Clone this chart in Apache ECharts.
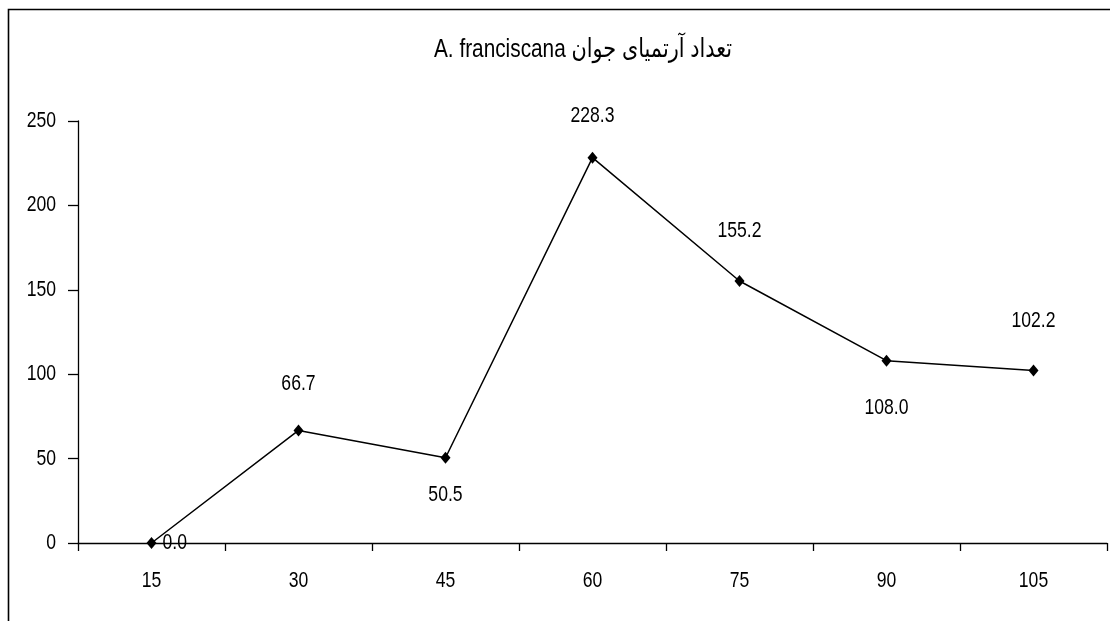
<!DOCTYPE html>
<html>
<head>
<meta charset="utf-8">
<script src="https://cdn.jsdelivr.net/npm/echarts@6/dist/echarts.min.js"></script>
<style>
  html, body { margin: 0; padding: 0; background: #fff; }
  #chart { width: 1110px; height: 621px; }
</style>
</head>
<body>
<div id="chart"></div>
<script>
// Young Artemia counts over time
const titleText = 'A. franciscana تعداد آرتمیای جوان';
const categories = ['15', '30', '45', '60', '75', '90', '105'];
const counts = [0.0, 66.7, 50.5, 228.3, 155.2, 108.0, 102.2];
const yTicks = [0, 50, 100, 150, 200, 250];

// label placement per point (style only)
const labelPlace = ['right', 'top', 'bottom', 'top', 'top', 'bottom', 'top'];
const labelGap = [6, 29, 20, 25, 33, 30, 33];

const FONT = '"Liberation Sans Narrow", "Arial Narrow", "Liberation Sans", Arial, "DejaVu Sans", sans-serif';

// No narrow face is installed, so draw canvas text horizontally condensed
// around its anchor point (keeps left/center/right alignment intact).
const TEXT_CONDENSE = 0.8;
(function () {
  const proto = CanvasRenderingContext2D.prototype;
  const origFill = proto.fillText;
  const origStroke = proto.strokeText;
  proto.fillText = function (text, x, y, maxWidth) {
    this.save();
    this.translate(x, y);
    this.scale(TEXT_CONDENSE, 1);
    if (maxWidth === undefined) origFill.call(this, text, 0, 0);
    else origFill.call(this, text, 0, 0, maxWidth / TEXT_CONDENSE);
    this.restore();
  };
  proto.strokeText = function (text, x, y, maxWidth) {
    this.save();
    this.translate(x, y);
    this.scale(TEXT_CONDENSE, 1);
    if (maxWidth === undefined) origStroke.call(this, text, 0, 0);
    else origStroke.call(this, text, 0, 0, maxWidth / TEXT_CONDENSE);
    this.restore();
  };
})();

const chart = echarts.init(document.getElementById('chart'), null, { renderer: 'canvas' });

chart.setOption({
  animation: false,
  backgroundColor: '#fff',
  title: {
    text: titleText,
    left: 578,
    top: 32,
    textAlign: 'center',
    textStyle: { fontFamily: FONT, fontSize: 26, fontWeight: 'normal', color: '#000' }
  },
  graphic: [{
    type: 'rect',
    shape: { x: 8.5, y: 9.5, width: 1200, height: 700 },
    style: { fill: 'none', stroke: '#000', lineWidth: 1.6 },
    silent: true
  }],
  grid: { left: 78, right: 3, top: 121, bottom: 78, containLabel: false },
  xAxis: {
    type: 'category',
    data: categories,
    boundaryGap: true,
    axisLine: { lineStyle: { color: '#000', width: 1.3 } },
    axisTick: { show: true, length: 8, inside: false, alignWithLabel: false, lineStyle: { color: '#000', width: 1.3 } },
    axisLabel: { color: '#000', fontFamily: FONT, fontSize: 22, margin: 27 },
    splitLine: { show: false }
  },
  yAxis: {
    type: 'value',
    min: yTicks[0],
    max: yTicks[yTicks.length - 1],
    interval: yTicks[1] - yTicks[0],
    axisLine: { show: true, lineStyle: { color: '#000', width: 1.3 } },
    axisTick: { show: true, length: 10, inside: false, lineStyle: { color: '#000', width: 1.3 } },
    axisLabel: { color: '#000', fontFamily: FONT, fontSize: 22, margin: 22 },
    splitLine: { show: false }
  },
  series: [{
    type: 'line',
    data: counts.map((v, i) => ({
      value: v,
      label: { position: labelPlace[i], distance: labelGap[i] }
    })),
    symbol: 'diamond',
    symbolSize: [10, 12],
    showAllSymbol: true,
    lineStyle: { color: '#000', width: 1.5 },
    itemStyle: { color: '#000' },
    label: {
      show: true,
      color: '#000',
      fontFamily: FONT,
      fontSize: 22,
      formatter: p => p.value.toFixed(1)
    }
  }]
});
</script>
</body>
</html>
